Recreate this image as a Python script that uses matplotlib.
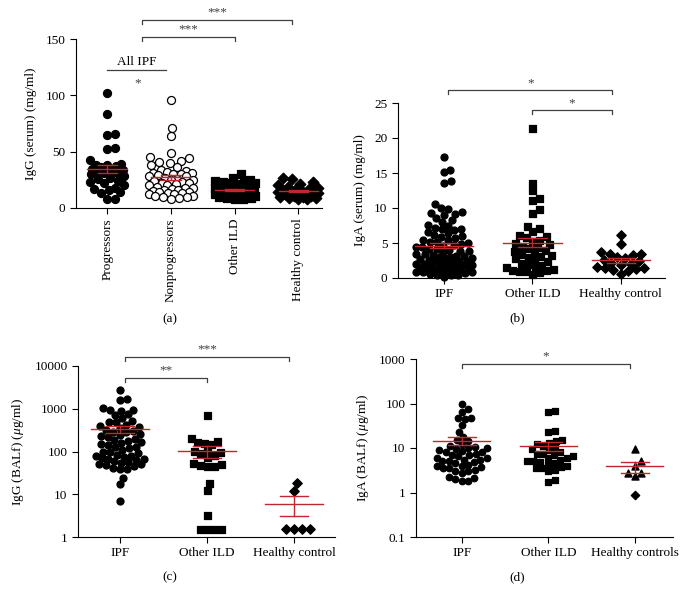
import numpy as np
import matplotlib
matplotlib.use('Agg')
import matplotlib.pyplot as plt
from matplotlib.ticker import NullLocator

plt.rcParams['font.family'] = ['Liberation Serif', 'DejaVu Serif']
plt.rcParams['mathtext.fontset'] = 'custom'
plt.rcParams['mathtext.rm'] = 'Liberation Serif'
plt.rcParams['mathtext.it'] = 'Liberation Serif:italic'
plt.rcParams['font.size'] = 9.5

RED = '#c0282d'
GRAY = '#404040'

# (a) IgG serum (mg/ml)
a_labels = ['Progressors', 'Nonprogressors', 'Other ILD', 'Healthy control']
a_prog = [102, 83, 66, 65, 53, 52, 43, 39, 38, 38, 37, 36, 35, 34, 33, 32, 31, 31,
          30, 28, 27, 26, 24, 23, 22, 20, 18, 17, 16, 14, 13, 8, 8]
a_nonprog = [96, 71, 64, 49, 45, 44, 42, 41, 40, 38, 36, 34, 33, 32, 31, 31, 30, 30,
             29, 28, 28, 27, 26, 25, 25, 24, 23, 22, 22, 21, 20, 20, 19, 18, 18, 17,
             16, 16, 15, 14, 14, 13, 13, 12, 12, 11, 11, 10, 10, 9, 8]
a_other = [30, 27, 25, 24, 23, 23, 22, 22, 21, 21, 20, 20, 19, 19, 18, 18, 18, 17, 17,
           17, 16, 16, 16, 15, 15, 15, 14, 14, 14, 13, 13, 13, 12, 12, 12, 11, 11, 11,
           10, 10, 10, 9, 9, 8, 8]
a_healthy = [27, 26, 23, 21, 20, 19, 18, 17, 16, 16, 15, 15, 14, 14, 13, 13, 12, 12,
             11, 11, 10, 10, 9, 9, 8, 8]

# (b) IgA serum (mg/ml)
b_labels = ['IPF', 'Other ILD', 'Healthy control']
b_ipf = [17.3, 15.5, 15.1, 13.9, 13.6, 10.6, 10.0, 9.8, 9.5, 9.3, 9.2, 9.0,
         8.6, 8.3, 8.0, 7.6, 7.4, 7.2, 7.0, 7.0, 6.8, 6.6, 6.4, 6.2, 6.0, 5.9,
         5.7, 5.5, 5.4, 5.2, 5.1, 5.0, 4.9, 4.7, 4.6, 4.5, 4.4, 4.2, 4.1, 4.0,
         3.9, 3.8, 3.6, 3.5, 3.4, 3.3, 3.2, 3.1, 3.0, 3.0, 2.9, 2.8, 2.7, 2.6,
         2.5, 2.4, 2.4, 2.3, 2.2, 2.1, 2.0, 2.0, 1.9, 1.8, 1.8, 1.7, 1.6, 1.5,
         1.5, 1.5, 1.4, 1.3, 1.2, 1.2, 1.1, 1.0, 1.0, 0.9, 0.8, 0.8, 0.7, 0.6,
         0.5, 0.5, 0.4, 0.2]
b_other = [21.4, 13.6, 12.6, 11.4, 11.1, 9.8, 9.3, 7.4, 7.2, 6.7, 6.2, 6.0, 5.8,
           5.5, 5.3, 5.0, 4.8, 4.6, 4.5, 4.3, 4.0, 3.8, 3.6, 3.5, 3.3, 3.2, 3.0,
           2.8, 2.6, 2.4, 2.2, 2.0, 1.8, 1.6, 1.5, 1.3, 1.2, 1.1, 1.0, 1.0, 0.8, 0.6]
b_healthy = [6.1, 4.9, 3.7, 3.5, 3.5, 3.3, 3.0, 2.8, 2.6, 2.4, 2.2, 2.0, 1.9, 1.6,
             1.5, 1.4, 1.3, 1.1, 1.0, 0.6]

# (c) IgG BALf (ug/ml)
c_labels = ['IPF', 'Other ILD', 'Healthy control']
c_ipf = [2700, 1700, 1600, 1050, 950, 930, 900, 750, 700, 600, 520, 500, 480, 420,
         400, 380, 350, 320, 300, 290, 280, 260, 240, 230, 220, 200, 190, 180, 170,
         160, 150, 140, 130, 125, 120, 110, 100, 95, 90, 85, 80, 78, 75, 70, 68, 65,
         62, 60, 58, 55, 52, 50, 48, 45, 42, 40, 38, 24, 17, 7]
c_other = [720, 210, 180, 170, 160, 150, 110, 105, 100, 90, 85, 75, 55, 50, 48, 47,
           45, 18, 12.5, 3.2, 1.5, 1.5, 1.5, 1.5]
c_healthy = [18, 12, 1.5, 1.5, 1.5, 1.5]

# (d) IgA BALf (ug/ml)
d_labels = ['IPF', 'Other ILD', 'Healthy controls']
d_ipf = [98, 74, 66, 47, 47, 45, 33, 23, 17.5, 15, 14, 12, 11, 10.5, 10, 10, 9.5,
         9, 8.5, 8, 8, 7.5, 7, 7, 6.5, 6, 6, 5.5, 5.5, 5, 5, 4.8, 4.5, 4.2, 4, 4,
         3.8, 3.5, 3.5, 3.2, 3, 3, 2.8, 2.2, 2.1, 2.0, 1.8, 1.8]
d_other = [68, 63, 24, 23, 15, 14, 13, 12, 11, 10, 9.5, 9, 8, 7.5, 7.5, 7, 6.5, 6,
           6, 5.5, 5, 5, 4.8, 4.5, 4.2, 4, 3.8, 3.6, 3.5, 3.2, 3, 1.9, 1.7]
d_healthy_tri = [9.5, 5.0, 4.0, 2.7, 2.7, 2.3]
d_healthy_dia = [0.9]

W, H = 682, 604
fig = plt.figure(figsize=(W / 100, H / 100), dpi=100)


def make_ax(l, r, b, t):
    return fig.add_axes([l / W, 1 - b / H, (r - l) / W, (b - t) / H])


def style(ax, labels, xlim, rot=0):
    ax.set_xlim(*xlim)
    ax.spines['top'].set_visible(False)
    ax.spines['right'].set_visible(False)
    ax.set_xticks(range(len(labels)))
    ax.set_xticklabels(labels, rotation=rot)
    ax.tick_params(direction='out', length=4, width=0.8)


def swarm(ax, x0, vals, diam, maxw):
    v = np.asarray(vals, float)
    ys = ax.transData.transform(np.column_stack([np.full(len(v), x0), v]))[:, 1]
    steps = np.arange(0.5, maxw + 0.01, 0.5)
    cands = np.concatenate([[0.0], np.column_stack([steps, -steps]).ravel()])
    placed_x, placed_y = [], []
    offs = np.zeros(len(v))
    for i in np.argsort(ys):
        best, bestd = 0.0, -1
        for c in cands:
            if placed_x:
                d = np.min(np.hypot(c - np.array(placed_x), ys[i] - np.array(placed_y)))
            else:
                d = np.inf
            if d >= diam:
                best = c
                break
            if d > bestd:
                best, bestd = c, d
        offs[i] = best
        placed_x.append(best)
        placed_y.append(ys[i])
    ppu = ax.bbox.width / (ax.get_xlim()[1] - ax.get_xlim()[0])
    return x0 + offs / ppu


def group(ax, x0, vals, marker, diam, maxw, face='k'):
    xs = swarm(ax, x0, vals, diam, maxw)
    s = (diam * 0.72) ** 2
    if marker == 'D':
        s *= 0.7
    ax.scatter(xs, vals, s=s, marker=marker, facecolor=face, edgecolor='k',
               linewidth=0.9, zorder=3, clip_on=False)
    return xs


def mean_sem(ax, x0, vals, hw=0.32, cw=0.16):
    v = np.asarray(vals, float)
    m = v.mean()
    se = v.std(ddof=1) / np.sqrt(len(v))
    kw = dict(color=RED, lw=1, zorder=5, clip_on=False)
    ax.plot([x0 - hw, x0 + hw], [m, m], **kw)
    ax.plot([x0, x0], [m - se, m + se], **kw)
    ax.plot([x0 - cw, x0 + cw], [m - se, m - se], **kw)
    ax.plot([x0 - cw, x0 + cw], [m + se, m + se], **kw)


def sig(ax, x1, x2, y, text, ty, tick=0.025):
    tr = ax.get_xaxis_transform()
    ax.plot([x1, x1, x2, x2], [y - tick, y, y, y - tick], color=GRAY, lw=0.9,
            transform=tr, clip_on=False)
    ax.text((x1 + x2) / 2, ty, text, ha='center', va='center', transform=tr,
            color=GRAY)


# ---- (a)
ax = make_ax(76, 322, 208, 39)
ax.set_ylim(0, 150)
ax.set_yticks([0, 50, 100, 150])
style(ax, a_labels, (-0.49, 3.37), rot=90)
ax.set_ylabel('IgG (serum) (mg/ml)', labelpad=6)
group(ax, 0, a_prog, 'o', 8, 17)
group(ax, 1, a_nonprog, 'o', 8, 22, face='white')
group(ax, 2, a_other, 's', 8, 20)
group(ax, 3, a_healthy, 'D', 9, 20)
for i, g in enumerate([a_prog, a_nonprog, a_other, a_healthy]):
    mean_sem(ax, i, g, hw=0.31, cw=0.15)
sig(ax, 0.55, 2.9, 1.112, '***', 1.155)
sig(ax, 0.55, 2.0, 1.012, '***', 1.057)
ax.plot([0.0, 0.93], [122.5, 122.5], color=GRAY, lw=0.9, clip_on=False)
ax.text(0.47, 130, 'All IPF', ha='center', va='center')
ax.text(0.47, 111, '*', ha='center', va='center', color=GRAY)

# ---- (b)
ax = make_ax(398, 665, 278, 103)
ax.set_ylim(0, 25)
ax.set_yticks([0, 5, 10, 15, 20, 25])
style(ax, b_labels, (-0.52, 2.5))
ax.set_ylabel('IgA (serum) (mg/ml)', labelpad=6)
group(ax, 0, b_ipf, 'o', 7, 28)
group(ax, 1, b_other, 's', 7, 26)
group(ax, 2, b_healthy, 'D', 8, 24)
for i, g in enumerate([b_ipf, b_other, b_healthy]):
    mean_sem(ax, i, g, hw=0.33, cw=0.16)
sig(ax, 0.05, 1.9, 1.074, '*', 1.115)
sig(ax, 1.0, 1.9, 0.96, '*', 1.0)

# ---- (c)
ax = make_ax(78, 335, 537, 366)
ax.set_yscale('log')
ax.set_ylim(1, 10000)
ax.set_yticks([1, 10, 100, 1000, 10000])
ax.set_yticklabels(['1', '10', '100', '1000', '10000'])
ax.yaxis.set_minor_locator(NullLocator())
style(ax, c_labels, (-0.48, 2.47))
ax.set_ylabel(r'IgG (BALf) ($\mu$g/ml)', labelpad=6)
group(ax, 0, c_ipf, 'o', 7, 24)
group(ax, 1, c_other, 's', 7, 30)
group(ax, 2, c_healthy, 'D', 8, 22)
for i, g in enumerate([c_ipf, c_other, c_healthy]):
    mean_sem(ax, i, g, hw=0.33, cw=0.16)
sig(ax, 0.06, 1.94, 1.053, '***', 1.1)
sig(ax, 0.06, 1.0, 0.93, '**', 0.975)

# ---- (d)
ax = make_ax(416, 673, 537, 359)
ax.set_yscale('log')
ax.set_ylim(0.1, 1000)
ax.set_yticks([0.1, 1, 10, 100, 1000])
ax.set_yticklabels(['0.1', '1', '10', '100', '1000'])
ax.yaxis.set_minor_locator(NullLocator())
style(ax, d_labels, (-0.53, 2.44))
ax.set_ylabel(r'IgA (BALf) ($\mu$g/ml)', labelpad=6)
group(ax, 0, d_ipf, 'o', 6.5, 25)
group(ax, 1, d_other, 's', 6.5, 25)
d_healthy = d_healthy_tri + d_healthy_dia
hx = swarm(ax, 2, d_healthy, 7, 12)
n_tri = len(d_healthy_tri)
ax.scatter(hx[:n_tri], d_healthy_tri, s=(7 * 0.72) ** 2, marker='^', color='k', zorder=3)
ax.scatter(hx[n_tri:], d_healthy_dia, s=(7 * 0.72) ** 2 * 0.7, marker='D', color='k', zorder=3)
for i, g in enumerate([d_ipf, d_other, d_healthy]):
    mean_sem(ax, i, g, hw=0.33, cw=0.16)
sig(ax, 0.0, 1.94, 0.972, '*', 1.015)

for lab, x, y in [('(a)', 170, 319), ('(b)', 517, 318), ('(c)', 170, 577), ('(d)', 517, 577)]:
    fig.text(x / W, 1 - y / H, lab, ha='center', va='center')

fig.savefig('out.png', dpi=100)
